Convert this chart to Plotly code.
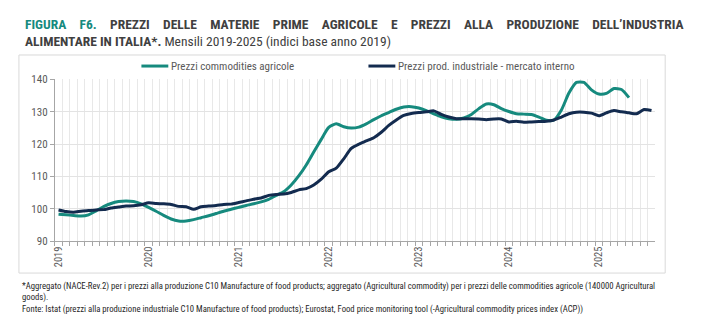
import plotly.graph_objects as go

months = [f"{y}-{m:02d}" for y in range(2019, 2026) for m in range(1, 13)][:80]

prod_industriale = [
    99.7, 99.2, 99.0, 99.3, 99.5, 99.7, 99.8, 100.3, 100.6, 100.9, 101.0, 101.3,
    101.9, 101.7, 101.6, 101.4, 100.8, 100.7, 99.9, 100.7, 100.9, 101.1, 101.4, 101.5,
    102.0, 102.5, 103.0, 103.4, 104.2, 104.5, 104.6, 105.1, 105.9, 106.3, 107.4, 109.2,
    111.5, 112.6, 115.5, 118.7, 120.0, 121.0, 122.0, 123.7, 125.8, 127.5, 128.9, 129.5,
    129.8, 130.0, 130.3, 129.2, 128.4, 127.9, 127.9, 127.9, 127.8, 127.6, 127.8, 127.8,
    126.9, 127.1, 126.8, 126.9, 127.0, 127.1, 127.5, 128.4, 129.4, 129.9, 129.9, 129.6,
    128.8, 129.7, 130.4, 130.0, 129.7, 129.4, 130.7, 130.4,
]

commodities_agricole = [
    98.4, 98.2, 98.0, 97.8, 98.2, 99.4, 100.7, 101.7, 102.3, 102.5, 102.3, 101.6,
    100.5, 99.3, 98.0, 96.9, 96.3, 96.3, 96.7, 97.3, 97.9, 98.6, 99.3, 99.9,
    100.5, 101.1, 101.6, 102.2, 103.0, 104.2, 105.3, 107.4, 110.2, 113.6, 117.6, 121.5,
    125.2, 126.3, 125.4, 125.0, 125.3, 126.3, 127.6, 128.8, 129.8, 130.8, 131.5, 131.6,
    131.2, 130.4, 129.4, 128.5, 127.9, 127.7, 128.1, 129.2, 131.0, 132.4, 132.2, 131.0,
    130.1, 129.4, 129.3, 129.2, 128.4, 127.4, 127.5, 130.6, 135.8, 139.1, 139.1, 136.8,
    135.5, 135.7, 137.2, 136.9, 134.4,
]

year_labels = [m[:4] if m.endswith("-01") else "" for m in months]
y_ticks = [90, 100, 110, 120, 130, 140]

name_agri = "Prezzi commodities agricole"
name_ind = "Prezzi prod. industriale - mercato interno"

TEAL = "#168a7e"
NAVY = "#132b4f"
FONT = "Roboto Condensed, Liberation Sans Narrow, Arial Narrow, sans-serif"

W, H = 712, 330

def px(x):
    return x / W

def py(y):
    return 1 - y / H

fig = go.Figure()
fig.add_trace(go.Scatter(
    x=months[:len(commodities_agricole)], y=commodities_agricole, mode="lines",
    name=name_agri, line=dict(color=TEAL, width=3, shape="spline", smoothing=0.6),
))
fig.add_trace(go.Scatter(
    x=months, y=prod_industriale, mode="lines",
    name=name_ind, line=dict(color=NAVY, width=3, shape="spline", smoothing=0.6),
))

fig.update_layout(
    width=W, height=H,
    margin=dict(l=0, r=0, t=0, b=0),
    paper_bgcolor="white", plot_bgcolor="white",
    showlegend=False,
    font=dict(family=FONT, size=11, color="#595959"),
    xaxis=dict(
        type="category",
        domain=[px(52), px(655)],
        range=[-0.5, len(months) - 0.5],
        tickmode="array", tickvals=months, ticktext=year_labels,
        tickson="boundaries",
        tickangle=-90,
        ticks="outside", ticklen=4, tickcolor="#a6a6a6",
        showgrid=True, gridcolor="#e8e8e8", gridwidth=1,
        showline=True, linecolor="#a6a6a6", linewidth=1,
        tickfont=dict(size=10.5, color="#595959", family=FONT),
        anchor="y", zeroline=False,
    ),
    yaxis=dict(
        domain=[py(245), py(76.5)],
        range=[90, 140],
        tickmode="array", tickvals=y_ticks,
        ticks="outside", ticklen=4, tickcolor="#a6a6a6",
        showgrid=True, gridcolor="#e3e3e3", gridwidth=1,
        showline=True, linecolor="#a6a6a6", linewidth=1,
        tickfont=dict(size=11, color="#595959", family=FONT),
        zeroline=False,
    ),
)

# chart frame
fig.add_shape(type="rect", xref="paper", yref="paper",
              x0=px(16), x1=px(665), y0=py(278), y1=py(51),
              line=dict(color="#d9d9d9", width=1), fillcolor="rgba(0,0,0,0)", layer="below")

# custom legend
for x0, color, text in [(139, TEAL, name_agri), (367, NAVY, name_ind)]:
    fig.add_shape(type="line", xref="paper", yref="paper",
                  x0=px(x0), x1=px(x0 + 27), y0=py(62.5), y1=py(62.5),
                  line=dict(color=color, width=3))
    fig.add_annotation(xref="paper", yref="paper", x=px(x0 + 28), y=py(62.5),
                       text=text, showarrow=False, xanchor="left", yanchor="middle",
                       font=dict(size=11, color="#595959", family=FONT))

# title
title1 = ("<span style='word-spacing:10.2px'><b><span style='color:%s'>FIGURA F6.</span> PREZZI DELLE MATERIE PRIME AGRICOLE "
          "E PREZZI ALLA PRODUZIONE DELL\u2019INDUSTRIA</b></span>" % TEAL)
title2 = "<b>ALIMENTARE IN ITALIA*.</b> Mensili 2019-2025 (indici base anno 2019)"
fig.add_annotation(xref="paper", yref="paper", x=px(20), y=py(19), text=title1,
                   showarrow=False, xanchor="left", yanchor="middle",
                   font=dict(size=13.5, color="#404040", family=FONT))
fig.add_annotation(xref="paper", yref="paper", x=px(20), y=py(36), text=title2,
                   showarrow=False, xanchor="left", yanchor="middle",
                   font=dict(size=13.5, color="#404040", family=FONT))

# footnotes
notes = [
    (292, "*Aggregato (NACE-Rev.2) per i prezzi alla produzione C10 Manufacture of food products; aggregato (Agricultural commodity) per i prezzi delle commodities agricole (140000 Agricultural"),
    (303, "goods)."),
    (315.5, "Fonte: Istat (prezzi alla produzione industriale C10 Manufacture of food products); Eurostat, Food price monitoring tool (-Agricultural commodity prices index (ACP))"),
]
for y, t in notes:
    fig.add_annotation(xref="paper", yref="paper", x=px(17), y=py(y), text=t,
                       showarrow=False, xanchor="left", yanchor="middle",
                       font=dict(size=8.7, color="#262626", family=FONT))

fig.write_html("out.html")
